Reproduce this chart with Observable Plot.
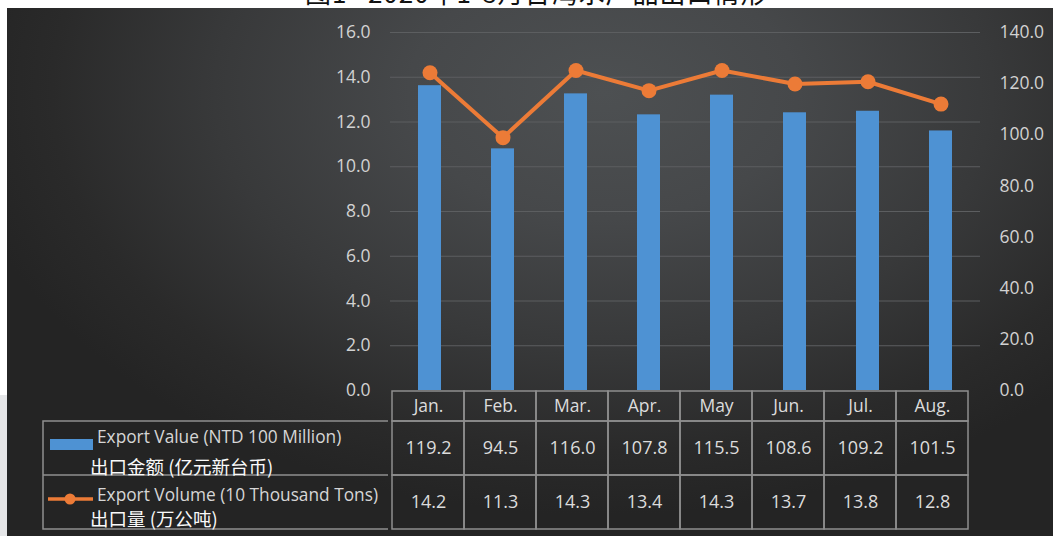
<!DOCTYPE html>
<html><head><meta charset="utf-8">
<script src="https://cdn.jsdelivr.net/npm/d3@7"></script>
<script src="https://cdn.jsdelivr.net/npm/@observablehq/plot@0.6"></script>
<style>
html,body{margin:0;padding:0;background:#fff;width:1053px;height:536px;overflow:hidden;position:relative;font-family:'Open Sans',sans-serif}
#strip{position:absolute;left:0;top:395px;width:7px;height:141px;background:#e5e6e8}
#title{position:absolute;left:305px;top:-21px;font:26px/26px 'Noto Sans CJK SC',sans-serif;color:#111;white-space:pre;letter-spacing:1px}
#panel{position:absolute;left:7px;top:8px;width:1046px;height:528px;overflow:hidden;
  background:radial-gradient(ellipse 62% 80% at 57% 16%, #4d5052 0%, #46484a 30%, #38393a 60%, #2a2a2a 85%, #242424 100%)}
#panel>*{position:absolute;left:0}
</style></head>
<body>
<div id="strip"></div>
<div id="title">图1   2020年1-8月台湾水产品出口情形</div>
<div id="panel"></div>
<script>
const months = ["Jan.","Feb.","Mar.","Apr.","May","Jun.","Jul.","Aug."];
const exportValue = [119.2, 94.5, 116.0, 107.8, 115.5, 108.6, 109.2, 101.5];
const exportVolume = [14.2, 11.3, 14.3, 13.4, 14.3, 13.7, 13.8, 12.8];
const leftTicks = [0, 2, 4, 6, 8, 10, 12, 14, 16];
const rightTicks = [0, 20, 40, 60, 80, 100, 120, 140];
const valueLabels = ["Export Value (NTD 100 Million)", "出口金额 (亿元新台币)"];
const volumeLabels = ["Export Volume (10 Thousand Tons)", "出口量 (万公吨)"];

const BLUE = "#4e92d3", ORANGE = "#ec7b37", GRID = "#5c5e60", BORDER = "#8e8e8e";
const k = 16 / 140;
const rows = months.map((m, i) => ({month: m, value: exportValue[i], volume: exportVolume[i]}));
const style = {background: "transparent", overflow: "visible", fontFamily: "'Open Sans', sans-serif", fontSize: "17.5px", color: "#d2d2d2"};
const panel = document.getElementById("panel");

const chart = Plot.plot({
  width: 1046, height: 384, marginTop: 24, marginBottom: 2, marginLeft: 386, marginRight: 76,
  x: {type: "band", domain: months, padding: 0, axis: null},
  y: {domain: [0, 16], axis: null},
  style,
  marks: [
    Plot.ruleY(leftTicks.slice(1), {stroke: GRID, strokeWidth: 1, insetLeft: -3, insetRight: -3}),
    Plot.barY(rows, {x: "month", y: d => d.value * k, fill: BLUE, insetLeft: 25, insetRight: 25}),
    Plot.line(rows, {x: "month", y: "volume", stroke: ORANGE, strokeWidth: 4}),
    Plot.dot(rows, {x: "month", y: "volume", r: 7.5, fill: ORANGE}),
    Plot.text(leftTicks, {y: d => d, text: d => d.toFixed(1), frameAnchor: "left", textAnchor: "end", dx: -23, fill: "#d2d2d2"}),
    Plot.text(rightTicks, {y: d => d * k, text: d => d.toFixed(1), frameAnchor: "right", textAnchor: "start", dx: 22, fill: "#d2d2d2"})
  ]
});
chart.style.top = "0px";
panel.appendChild(chart);

const header = Plot.plot({
  width: 1046, height: 30, marginTop: 0, marginBottom: 0, marginLeft: 381, marginRight: 82,
  x: {type: "band", domain: months, padding: 0, axis: null},
  style,
  marks: [
    Plot.cell(months, {x: d => d, fill: "none", stroke: BORDER, strokeWidth: 1.5}),
    Plot.text(months, {x: d => d, text: d => d, fill: "#dcdcdc"})
  ]
});
header.style.top = "383px";
panel.appendChild(header);

const tableRows = [];
months.forEach((m, i) => {
  tableRows.push({month: m, row: "value", label: exportValue[i].toFixed(1)});
  tableRows.push({month: m, row: "volume", label: exportVolume[i].toFixed(1)});
});
const table = Plot.plot({
  width: 1046, height: 108, marginTop: 0, marginBottom: 0, marginLeft: 381, marginRight: 82,
  x: {type: "band", domain: months, padding: 0, axis: null},
  y: {type: "band", domain: ["value", "volume"], padding: 0, axis: null},
  style: {...style, fontSize: "18px"},
  marks: [
    Plot.cell(tableRows, {x: "month", y: "row", fill: "none", stroke: BORDER, strokeWidth: 1.5}),
    Plot.text(tableRows, {x: "month", y: "row", text: "label", fill: "#dcdcdc"})
  ]
});
table.style.top = "413px";
panel.appendChild(table);

// legend column of the data table
const ns = "http://www.w3.org/2000/svg";
const lg = document.createElementNS(ns, "svg");
lg.setAttribute("width", 345); lg.setAttribute("height", 108);
lg.style.left = "36px"; lg.style.top = "413px"; lg.style.overflow = "visible";
function el(tag, attrs, text) {
  const e = document.createElementNS(ns, tag);
  for (const a in attrs) e.setAttribute(a, attrs[a]);
  if (text) e.textContent = text;
  lg.appendChild(e); return e;
}
el("path", {d: "M345,0H0V108H345M0,54H345", fill: "none", stroke: BORDER, "stroke-width": 1.5});
el("rect", {x: 7, y: 18, width: 43, height: 11, fill: BLUE});
el("line", {x1: 5, x2: 50, y1: 78, y2: 78, stroke: ORANGE, "stroke-width": 3.5});
el("circle", {cx: 27, cy: 78, r: 5.5, fill: ORANGE});
el("text", {x: 54, y: 22, fill: "#d6d6d6", "font-family": "'Open Sans', sans-serif", "font-size": 17.3}, valueLabels[0]);
el("text", {x: 47, y: 53, fill: "#fafafa", "font-family": "'Noto Sans CJK SC', sans-serif", "font-size": 18.5}, valueLabels[1]);
el("text", {x: 54, y: 80, fill: "#d6d6d6", "font-family": "'Open Sans', sans-serif", "font-size": 17.3}, volumeLabels[0]);
el("text", {x: 47, y: 105, fill: "#fafafa", "font-family": "'Noto Sans CJK SC', sans-serif", "font-size": 18.5}, volumeLabels[1]);
panel.appendChild(lg);
</script>
</body></html>
